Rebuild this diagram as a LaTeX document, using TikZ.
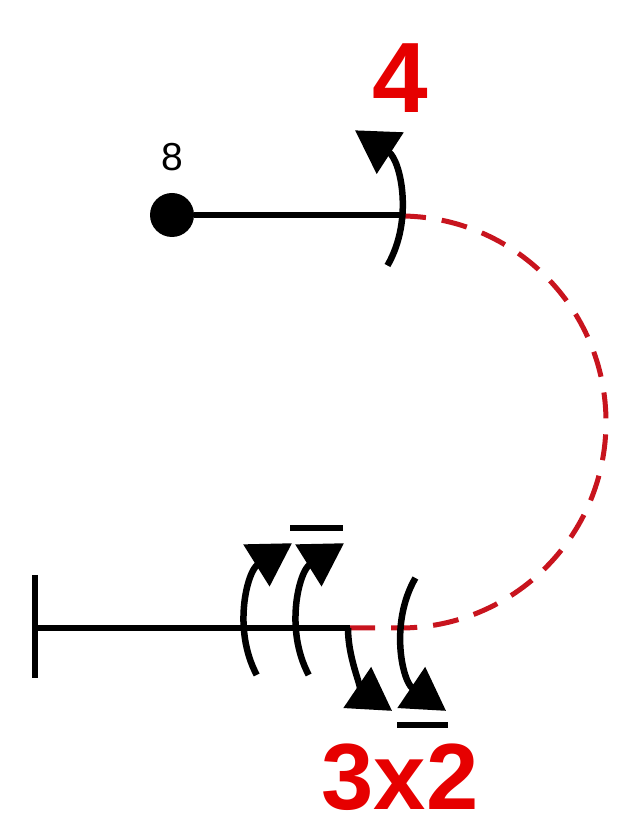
\documentclass[tikz,border=0pt]{standalone}
\usepackage{fontspec}
\setmainfont{Liberation Sans}
\usepackage{tikz}
\usetikzlibrary{arrows.meta}
\definecolor{darkred}{RGB}{200,20,30}
\definecolor{labelred}{RGB}{230,0,0}

\begin{document}
\begin{tikzpicture}
	 [x=1pt,y=1pt,
	  bond/.style={line width=6pt},
	  turn/.style={line width=6.5pt,-{Triangle[length=42pt,width=48pt]}},
	  link/.style={line width=5pt,color=darkred,dash pattern=on 26pt off 16pt},
	  count/.style={text=labelred,anchor=base,inner sep=0pt}]

	\useasboundingbox (0,0) rectangle (616,830);

	  \node[circle,fill=black,inner sep=0pt,minimum size=44pt] (d8) at (172,615) {};
	  \node[font=\fontsize{39}{40}\selectfont] (n8) at (172,673) {8};
	  \coordinate (t1) at (403,615);
	  \coordinate (b0) at (35,202);
	  \coordinate (b1) at (350,202);
	  \coordinate (bt) at (35,255);
	  \coordinate (bb) at (35,152);

	\draw[bond] (d8) -- (t1);
	\draw[bond] (b0) -- (b1);
	\draw[bond] (bt) -- (bb);

	% dashed red link between the two ends
	\draw[link] (400,614) arc (90:-90:206) -- (b1);

	% rotation arrows
	\draw[turn] (300,615) ++(-30:101) arc (-30:57:101);
	\foreach \cx in {345,397}
	\draw[turn] (\cx,202) ++(208:100) arc (208:122:100);
	\draw[turn] (448,202) ++(180:100) arc (180:236:100);
	\draw[turn] (502,202) ++(150:100) arc (150:236:100);

	% bars
	\draw[bond] (290,302) -- (343,302);
	\draw[bond] (397,105) -- (448,105);

	\node[count,font=\fontsize{100}{100}\selectfont\bfseries] (L4) at (400,717) {4};
	\node[count,font=\fontsize{94}{94}\selectfont\bfseries] (L32) at (400,20) {3x2};

\end{tikzpicture}
\end{document}
